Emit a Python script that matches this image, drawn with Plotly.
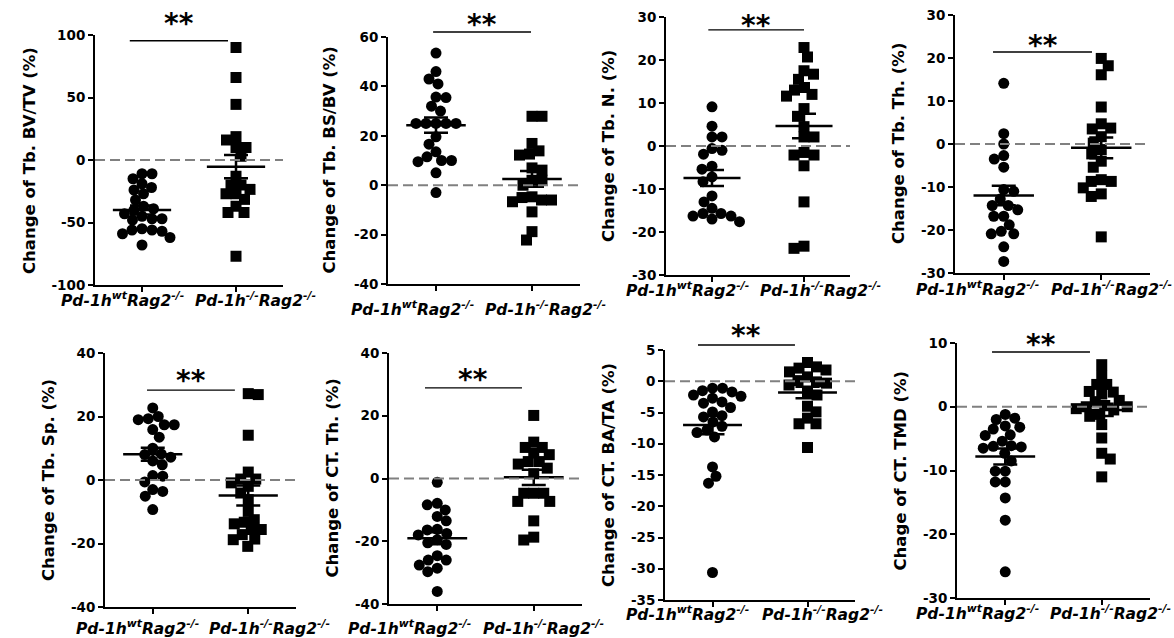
import numpy as np
import plotly.graph_objects as go

W, H = 1174, 638

# ---------------- data ----------------
group_labels = ["Pd-1h<sup>wt</sup>Rag2<sup>-/-</sup>", "Pd-1h<sup>-/-</sup>Rag2<sup>-/-</sup>"]

titles = [
    "Change of Tb. BV/TV (%)", "Change of Tb. BS/BV (%)", "Change of Tb. N. (%)",
    "Change of Tb. Th. (%)", "Change of Tb. Sp. (%)", "Change of CT. Th. (%)",
    "Change of CT. BA/TA (%)", "Chage of CT. TMD (%)",
]

tb_bvtv_wt = [-11, -11, -15, -19, -22, -24, -27, -32, -37, -39, -40, -43, -45, -47, -48, -47,
              -55, -56, -56, -57, -59, -62, -68]
tb_bvtv_ko = [90, 66, 44.5, 18.7, 16, 10, 10, 3, -13, -20, -20, -23.5, -27, -27, -31.5, -42,
              -42, -37, -77]

tb_bsbv_wt = [53.5, 46, 43, 41, 35.5, 35.7, 32, 30, 25, 25, 25, 25, 25, 19.6, 16.6, 13.5, 10,
              9.5, 11.5, 10, 5, -3]
tb_bsbv_ko = [27.9, 27.9, 16.9, 13.9, 12.2, 12.6, 7, 6.1, 2, 2, 0, -6, -6.7, -4.7, -6, -5,
              -10.8, -18.8, -22.2]

tb_n_wt = [9.1, 4.6, 2.1, 2.1, -0.6, -1, -1.9, -4.7, -5.4, -7.2, -8.3, -11.6, -13, -14.5,
           -15.7, -16.3, -17.6, -17, -16.3, -15.7]
tb_n_ko = [22.9, 20.7, 17.5, 16.7, 15.5, 13.6, 13, 12, 11.6, 8.7, 6.9, 4.5, 2.1, 2.1, -2.1,
           -2.1, -1.5, -4.6, -13, -23.8, -23.3]

tb_th_wt = [14.1, 2.4, 0, -2.7, -3.5, -5.4, -11, -10.6, -12.8, -14.3, -14.3, -15.3, -16.8,
            -16.8, -18.8, -20.3, -20.9, -20.9, -23.9, -27.3]
tb_th_ko = [19.9, 18.2, 16.1, 8.6, 4.7, 3.7, 3.5, 1.7, 0.2, -1.3, -2.3, -4, -5.4, -8.7, -8.3,
            -8.7, -10.2, -11.6, -12.2, -21.6]

tb_sp_wt = [22.7, 19.3, 17.4, 20, 19, 17.4, 15.9, 13.5, 7.2, 10, 8, 8.2, 4.8, 6, 1.2, 1.4,
            -0.6, -3, -3.6, -5.1, -9.3]
tb_sp_ko = [26.9, 27.2, 14.1, 2.5, 0.3, 0.3, -2, -0.9, -4.1, -6.2, -9.9, -13.3, -12.5, -15.6,
            -15.6, -13.8, -18.6, -18.8, -17.2, -20.9]

ct_th_wt = [-1.2, -7.9, -8.4, -10, -12.1, -13.5, -16.2, -16.4, -17.5, -18, -19.5, -21, -20.5,
            -26, -26, -24.6, -27.6, -28.6, -29.7, -36]
ct_th_ko = [20.1, 11.6, 9.9, 9.9, 7.6, 8.1, 5.4, 4.6, 5.4, 3.3, 1.5, -4.7, -4.7, -4.7, -7.3,
            -7.3, -13.5, -19.6, -18.7]

ct_bata_wt = [-1.1, -1.5, -2.2, -2.4, -1.7, -1.1, -3.5, -3.3, -2.7, -4.2, -4.9, -5.7, -5.5,
              -6.5, -7.2, -7.8, -8.2, -8.9, -13.7, -15.2, -16.3, -30.6]
ct_bata_ko = [3, 2.3, 1.8, 1.5, 2.1, 0.7, 0.1, -0.3, -0.1, -0.6, -1.7, -2.2, -4.9, -4, -5.9,
              -6.8, -6.8, -10.6]

ct_tmd_wt = [-1.8, -1.2, -2, -3, -3.5, -3.2, -4.4, -4.5, -5.4, -6.2, -6.3, -6.5, -6.1, -7.3,
             -8.5, -10.1, -10.1, -11.8, -11.8, -14.3, -17.8, -25.9]
ct_tmd_ko = [6.6, 4.9, 3.5, 3.5, 2.4, 2, 2.3, 0.8, 1, 0, 0, -0.5, -0.3, 0.2, -1.2, -1.5, -2.8,
             -4.9, -7.3, -8.2, -11]

series = [
    (tb_bvtv_wt, tb_bvtv_ko), (tb_bsbv_wt, tb_bsbv_ko), (tb_n_wt, tb_n_ko), (tb_th_wt, tb_th_ko),
    (tb_sp_wt, tb_sp_ko), (ct_th_wt, ct_th_ko), (ct_bata_wt, ct_bata_ko), (ct_tmd_wt, ct_tmd_ko),
]

y_ranges = [(-100, 100), (-40, 60), (-30, 30), (-30, 30), (-40, 40), (-40, 40), (-35, 5), (-30, 10)]
y_dticks = [50, 20, 10, 10, 20, 20, 5, 10]

# ---------------- layout geometry (pixels) ----------------
# x0, x1, ytop, ybot of each plotting area
boxes = [
    (95, 283, 35, 285), (388, 580, 37, 284), (666, 850, 17, 275), (955, 1150, 15, 273),
    (105, 296, 353, 607), (389, 582, 353, 604), (665, 855, 350, 600), (957, 1150, 343, 598),
]
# significance bar: x start, x end (category units), y (data units), star offset px
sig = [(-0.13, 0.915, 95.4, 20), (-0.03, 0.99, 62, 11), (-0.04, 1.0, 27, 7), (-0.11, 0.905, 21.4, 9),
       (-0.06, 0.86, 28.3, 13), (-0.127, 0.878, 28.9, 11), (-0.153, 0.868, 5.8, 13), (-0.137, 0.878, 8.6, 10)]
title_shift = [-66, -59, -57, -56, -57, -57, -57, -57]
label_dx = [(-20, 19), (-24, 13), (-25, 16), (-26, 10), (-15, 21), (-28, 10), (-25, 15), (-28, 9)]
label_dy = [14, 24, 14, 15, 20, 23, 13, 14]

XR = (-0.5, 1.5)
FONT = "DejaVu Sans"
MS = 11


def swarm(vals, px_per_y, d=10.0, step=0.5):
    ys = np.asarray(vals, dtype=float) * px_per_y
    order = np.argsort(-ys, kind="stable")
    placed = []
    offs = np.zeros(len(ys))
    for i in order:
        y = ys[i]
        k = 0
        while True:
            cands = [0.0] if k == 0 else ([k * step, -k * step] if len(placed) % 2 else [-k * step, k * step])
            got = None
            for c in cands:
                if all((c - ox) ** 2 + (y - oy) ** 2 >= d * d for ox, oy in placed):
                    got = c
                    break
            if got is not None:
                break
            k += 1
        offs[i] = got
        placed.append((got, y))
    return offs


fig = go.Figure()
annotations = []
shapes = []
layout_axes = {}

for p in range(8):
    x0, x1, yt, yb = boxes[p]
    yr = y_ranges[p]
    ax = "" if p == 0 else str(p + 1)
    xref, yref = "x" + ax, "y" + ax
    px_x = (x1 - x0) / (XR[1] - XR[0])
    px_y = (yb - yt) / (yr[1] - yr[0])

    for g, vals in enumerate(series[p]):
        offs = swarm(vals, px_y) / px_x
        xs = g + offs
        fig.add_trace(go.Scatter(
            x=xs, y=vals, mode="markers", xaxis=xref, yaxis=yref, showlegend=False,
            cliponaxis=False, hoverinfo="skip",
            marker=dict(symbol="circle" if g == 0 else "square", size=MS, color="black",
                        line=dict(width=0)),
        ))
        arr = np.asarray(vals, dtype=float)
        m = arr.mean()
        sem = arr.std(ddof=1) / np.sqrt(len(arr))
        fig.add_trace(go.Scatter(
            x=[g - 0.31, g + 0.31], y=[m, m], mode="lines", xaxis=xref, yaxis=yref,
            showlegend=False, hoverinfo="skip", line=dict(color="black", width=2.5),
        ))
        fig.add_trace(go.Scatter(
            x=[g], y=[m], mode="markers", xaxis=xref, yaxis=yref, showlegend=False,
            hoverinfo="skip", marker=dict(size=1, color="rgba(0,0,0,0)"),
            error_y=dict(type="data", array=[sem], visible=True, color="black",
                         thickness=2.5, width=12),
        ))

    # dashed zero line
    shapes.append(dict(type="line", xref=xref + " domain", yref=yref, x0=0, x1=1, y0=0, y1=0,
                       line=dict(color="#808080", width=2, dash="10px,5px"), layer="above"))
    # significance bar
    sx0, sx1, sy, soff = sig[p]
    fx0 = (sx0 - XR[0]) / (XR[1] - XR[0])
    fx1 = (sx1 - XR[0]) / (XR[1] - XR[0])
    fy = (sy - yr[0]) / (yr[1] - yr[0])
    shapes.append(dict(type="line", xref=xref + " domain", yref=yref + " domain",
                       x0=fx0, x1=fx1, y0=fy, y1=fy, line=dict(color="black", width=1.4)))
    annotations.append(dict(text="<b>**</b>", xref=xref + " domain", yref=yref + " domain",
                            x=(fx0 + fx1) / 2, y=fy, xanchor="center", yanchor="middle",
                            yshift=soff - 3, showarrow=False,
                            font=dict(family=FONT, size=28, color="black")))
    # y title
    annotations.append(dict(text="<b>" + titles[p] + "</b>", xref=xref + " domain",
                            yref=yref + " domain", x=0, y=0.5, xanchor="center", yanchor="middle",
                            xshift=title_shift[p], textangle=-90, showarrow=False,
                            font=dict(family=FONT, size=16.5, color="black")))
    # category labels
    for g in range(2):
        annotations.append(dict(text="<b><i>" + group_labels[g] + "</i></b>", xref=xref,
                                yref=yref + " domain", x=g, y=0, xanchor="center",
                                yanchor="middle", xshift=label_dx[p][g], yshift=-label_dy[p],
                                showarrow=False, font=dict(family=FONT, size=15.5, color="black")))

    ticks = list(np.arange(yr[0], yr[1] + 0.001, y_dticks[p]))
    layout_axes["xaxis" + ax] = dict(
        domain=[x0 / W, x1 / W], range=list(XR), anchor=yref, showline=True, linecolor="black",
        linewidth=2, tickvals=[0, 1], showticklabels=False, ticks="outside", ticklen=5,
        tickwidth=2, tickcolor="black", showgrid=False, zeroline=False, fixedrange=True,
        automargin=False)
    layout_axes["yaxis" + ax] = dict(
        domain=[1 - yb / H, 1 - yt / H], range=list(yr), anchor=xref, showline=True,
        linecolor="black", linewidth=2, tickvals=ticks, ticktext=[f"{int(t)}" for t in ticks],
        ticks="outside", ticklen=5, tickwidth=2, tickcolor="black", showgrid=False,
        zeroline=False, fixedrange=True, automargin=False,
        tickfont=dict(family=FONT, size=13.5, color="black", weight="bold"))

fig.update_layout(
    width=W, height=H, margin=dict(l=0, r=0, t=0, b=0, autoexpand=False), paper_bgcolor="white",
    plot_bgcolor="white", showlegend=False, annotations=annotations, shapes=shapes,
    hovermode=False, **layout_axes)

fig.write_html("out.html", config={"displayModeBar": False, "staticPlot": True},
               post_script="document.body.style.margin='0';document.body.style.overflow='hidden';")
